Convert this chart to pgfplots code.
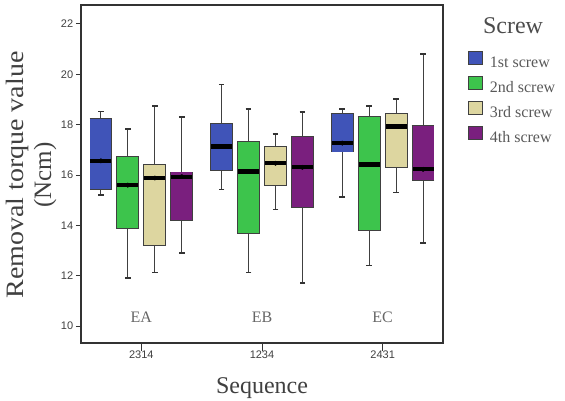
\documentclass[border=0pt]{standalone}
\usepackage{fontspec}
\setmainfont{Liberation Serif}
\newfontfamily\tickfont{Liberation Sans}
\usepackage{graphicx}
\usepackage{pgfplots}
\usepackage{pgfplotstable}
\pgfplotsset{compat=1.18}

\definecolor{cblue}{RGB}{64,84,184}
\definecolor{cgreen}{RGB}{61,196,76}
\definecolor{ctan}{RGB}{221,214,160}
\definecolor{cpurple}{RGB}{122,31,126}

% box plots: pos = x position, lw/uw = whiskers, lq/uq = quartiles, med = median
\pgfplotstableread{
pos    lw    lq    med    uq    uw
-0.335 15.20 15.45 16.56  18.23 18.52
0.665  15.42 16.20 17.13  18.03 19.60
1.665  15.12 16.93 17.27  18.42 18.63
}\tblue
\pgfplotstableread{
pos    lw    lq    med    uq    uw
-0.112 11.90 13.90 15.60  16.70 17.83
0.888  12.13 13.68 16.13  17.32 18.63
1.888  12.40 13.80 16.42  18.30 18.73
}\tgreen
\pgfplotstableread{
pos    lw    lq    med    uq    uw
0.112  12.13 13.23 15.88  16.40 18.73
1.112  14.63 15.60 16.47  17.10 17.63
2.112  15.31 16.30 17.92  18.42 19.02
}\ttan
\pgfplotstableread{
pos    lw    lq    med    uq    uw
0.335  12.90 14.20 15.93  16.10 18.31
1.335  11.72 14.73 16.31  17.50 18.50
2.335  13.31 15.81 16.23  17.95 20.81
}\tpurple

\pgfplotsset{
  whisk/.style={only marks, mark=none,
    error bars/.cd, y dir=both, y explicit,
    error bar style={black!75, line width=1.1pt},
    error mark=|, error mark options={mark size=2.8pt, line width=1.7pt, black!80}},
  boxedge/.style={only marks, mark=none,
    error bars/.cd, y dir=both, y explicit,
    error bar style={black!75, line width=22.8pt},
    error mark=|, error mark options={mark size=11.4pt, line width=1.8pt, black!75}},
  boxfill/.style={only marks, mark=none,
    error bars/.cd, y dir=both, y explicit,
    error bar style={#1, line width=21pt},
    error mark=none},
  medline/.style={only marks, mark=-, mark size=10.5pt,
    mark options={line width=4.5pt, black}},
}
\newcommand{\boxes}[2]{%
  \addplot[whisk] table[x=pos, y=med,
    y error plus expr=\thisrow{uw}-\thisrow{med},
    y error minus expr=\thisrow{med}-\thisrow{lw}] {#1};
  \addplot[boxedge] table[x=pos, y=med,
    y error plus expr=\thisrow{uq}-\thisrow{med},
    y error minus expr=\thisrow{med}-\thisrow{lq}] {#1};
  \addplot[boxfill=#2] table[x=pos, y=med,
    y error plus expr=\thisrow{uq}-\thisrow{med},
    y error minus expr=\thisrow{med}-\thisrow{lq}] {#1};
  \addplot[medline] table[x=pos, y=med] {#1};}

\begin{document}
\begin{tikzpicture}
\path[use as bounding box] (0pt,0pt) rectangle (565pt,401pt);
\begin{axis}[
  at={(81pt,58pt)}, anchor=south west,
  scale only axis, width=362pt, height=338pt,
  xmin=-0.5, xmax=2.5, ymin=9.325, ymax=22.755,
  xtick={0,1,2}, xticklabels={2314,1234,2431},
  ytick={10,12,14,16,18,20,22},
  tick pos=left, tick align=outside,
  xtick style={/pgfplots/major tick length=8pt, black!80, line width=1pt},
  ytick style={/pgfplots/major tick length=5pt, black!80, line width=1pt},
  /pgf/number format/assume math mode=true,
  ticklabel style={font=\tickfont\fontsize{11}{12}\selectfont, text=black!75},
  axis line style={black!80, line width=1.4pt},
  ylabel={\scalebox{1.12}[1]{Removal torque value}\\(Ncm)},
  ylabel style={align=center, font=\fontsize{25}{28}\selectfont, text=black!75,
    at={(axis description cs:-0.138,0.497)}, rotate=0, anchor=center},
  xlabel={Sequence},
  xlabel style={font=\fontsize{24}{26}\selectfont, text=black!75,
    at={(axis description cs:0.5,-0.148)}, anchor=base},
  legend cell align=left,
  legend style={at={(1.069,0.864)}, anchor=north west, draw=none, fill=none,
    inner sep=0pt, outer sep=0pt, row sep=5.5pt,
    font=\fontsize{16}{18}\selectfont,
    nodes={inner sep=0pt, text height=11pt, text depth=3pt, text=black!65},
    /tikz/every odd column/.append style={column sep=7pt}},
]
\addlegendimage{legend image code/.code={\draw[fill=cblue, draw=black!75, line width=0.9pt] (0pt,-1pt) rectangle (14pt,12pt);}}
\addlegendentry{1st screw}
\addlegendimage{legend image code/.code={\draw[fill=cgreen, draw=black!75, line width=0.9pt] (0pt,-1pt) rectangle (14pt,12pt);}}
\addlegendentry{2nd screw}
\addlegendimage{legend image code/.code={\draw[fill=ctan, draw=black!75, line width=0.9pt] (0pt,-1pt) rectangle (14pt,12pt);}}
\addlegendentry{3rd screw}
\addlegendimage{legend image code/.code={\draw[fill=cpurple, draw=black!75, line width=0.9pt] (0pt,-1pt) rectangle (14pt,12pt);}}
\addlegendentry{4th screw}

\boxes{\tblue}{cblue}
\boxes{\tgreen}{cgreen}
\boxes{\ttan}{ctan}
\boxes{\tpurple}{cpurple}

\node[anchor=base, font=\fontsize{16}{18}\selectfont, text=black!60] at (axis cs:0,10.12) {EA};
\node[anchor=base, font=\fontsize{16}{18}\selectfont, text=black!60] at (axis cs:1,10.12) {EB};
\node[anchor=base, font=\fontsize{16}{18}\selectfont, text=black!60] at (axis cs:2,10.12) {EC};
\end{axis}
\node[anchor=base, font=\fontsize{24}{26}\selectfont, text=black!70] at (513pt,367pt) {Screw};
\end{tikzpicture}
\end{document}
